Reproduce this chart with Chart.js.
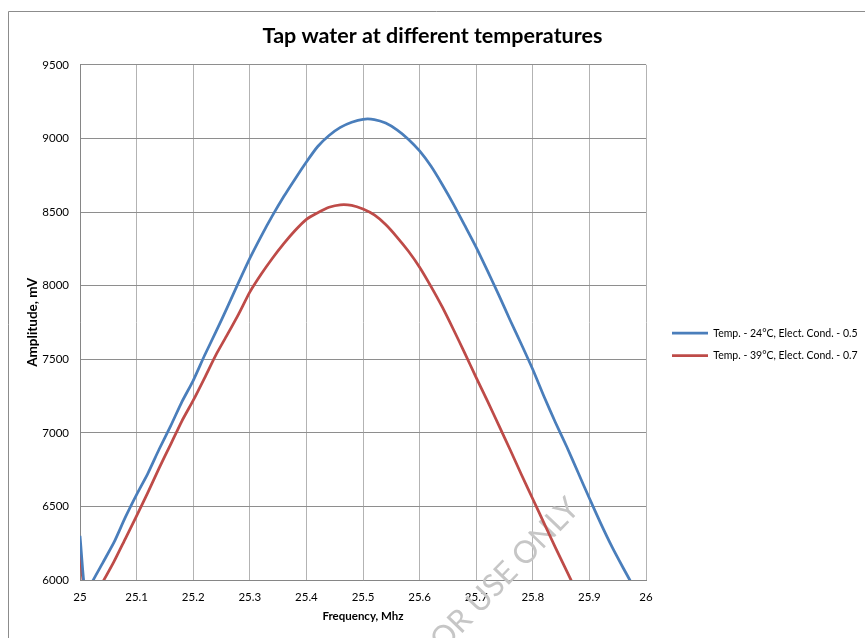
<!DOCTYPE html>
<html>
<head>
<meta charset="utf-8">
<title>Tap water at different temperatures</title>
<script src="https://cdn.jsdelivr.net/npm/chart.js@4.4.0/dist/chart.umd.min.js"></script>
<style>
  html, body { margin: 0; padding: 0; background: #fff; }
</style>
</head>
<body>
<canvas id="chart" width="865" height="638"></canvas>
<script>
// DATA
const freqs = [25.00, 25.01, 25.02, 25.04, 25.06, 25.08, 25.10, 25.12, 25.14, 25.16,
               25.18, 25.20, 25.22, 25.24, 25.26, 25.28, 25.30, 25.32, 25.34, 25.36,
               25.38, 25.40, 25.42, 25.44, 25.46, 25.48, 25.50, 25.52, 25.54, 25.56,
               25.58, 25.60, 25.62, 25.64, 25.66, 25.68, 25.70, 25.72, 25.74, 25.76,
               25.78, 25.80, 25.82, 25.84, 25.86, 25.88, 25.90, 25.92, 25.94, 25.96,
               25.98, 26.00];
const amp24 = [6300, 5880, 5975, 6115, 6255, 6425, 6580, 6725, 6890, 7045,
               7210, 7355, 7525, 7685, 7850, 8020, 8185, 8335, 8475, 8605,
               8725, 8840, 8945, 9020, 9075, 9110, 9130, 9128, 9104, 9058,
               8995, 8915, 8812, 8687, 8552, 8407, 8260, 8100, 7935, 7765,
               7600, 7430, 7245, 7070, 6905, 6730, 6555, 6385, 6225, 6080,
               5940, 5800];
const amp39 = [6180, 5870, 5850, 5985, 6125, 6280, 6435, 6595, 6762, 6920,
               7080, 7220, 7372, 7528, 7665, 7805, 7956, 8077, 8186, 8285,
               8374, 8450, 8495, 8532, 8549, 8545, 8520, 8480, 8415, 8330,
               8235, 8125, 7995, 7855, 7700, 7540, 7375, 7215, 7050, 6885,
               6715, 6550, 6385, 6220, 6060, 5900, 5740];
const seriesNames = ['Temp. - 24°C, Elect. Cond. - 0.5', 'Temp. - 39°C, Elect. Cond. - 0.7'];
const xTickLabels = ['25', '25.1', '25.2', '25.3', '25.4', '25.5', '25.6', '25.7', '25.8', '25.9', '26'];
const yTickLabels = ['6000', '6500', '7000', '7500', '8000', '8500', '9000', '9500'];

const FONT = 'Lato, "Open Sans", sans-serif';
const toPoints = vals => vals.map((v, i) => ({ x: freqs[i], y: v }));

// frame and watermark
const framePlugin = {
    id: 'frame',
    beforeDraw(chart) {
        const c = chart.ctx;
        c.save();
        c.fillStyle = '#fff';
        c.fillRect(0, 0, chart.width, chart.height);
        c.strokeStyle = '#8c8c8c';
        c.lineWidth = 1;
        c.beginPath();
        c.moveTo(8.5, chart.height);
        c.lineTo(8.5, 11.5);
        c.lineTo(chart.width, 11.5);
        c.stroke();
        c.restore();
    }
};
const watermarkPlugin = {
    id: 'watermark',
    beforeDatasetsDraw(chart) {
        const c = chart.ctx;
        c.save();
        c.translate(581, 510);
        c.rotate(-46 * Math.PI / 180);
        c.font = '31px ' + FONT;
        c.fillStyle = '#c6c6c6';
        c.textAlign = 'right';
        c.textBaseline = 'alphabetic';
        c.fillText('FOR AUTHOR USE ONLY', 0, 0);
        c.restore();
    }
};

new Chart(document.getElementById('chart'), {
    type: 'line',
    data: {
        datasets: [
            { label: seriesNames[0], data: toPoints(amp24), borderColor: '#4a7ebb', backgroundColor: '#4a7ebb',
              borderWidth: 2.75, pointRadius: 0, pointStyle: 'line', tension: 0.2 },
            { label: seriesNames[1], data: toPoints(amp39), borderColor: '#be4b48', backgroundColor: '#be4b48',
              borderWidth: 2.75, pointRadius: 0, pointStyle: 'line', tension: 0.2 }
        ]
    },
    options: {
        responsive: false,
        animation: false,
        layout: { padding: 0 },
        scales: {
            x: {
                type: 'linear', min: 25, max: 26,
                ticks: { stepSize: 0.1, padding: 10, color: '#000', maxRotation: 0, autoSkip: false,
                         font: { family: FONT, size: 11.5 }, callback: (v, i) => xTickLabels[i] },
                grid: { color: '#b3b3b3', drawTicks: false },
                border: { color: '#868686' },
                title: { display: true, text: 'Frequency, Mhz', color: '#000',
                         font: { family: FONT, size: 11.5, weight: 'bold' }, padding: { top: 0, bottom: 15 } },
                afterFit: s => { s.height = 58; }
            },
            y: {
                min: 6000, max: 9500,
                ticks: { stepSize: 500, padding: 11, color: '#000',
                         font: { family: FONT, size: 11.5 }, callback: (v, i) => yTickLabels[i] },
                grid: { color: '#8e8e8e', drawTicks: false },
                border: { color: '#868686' },
                title: { display: true, text: 'Amplitude, mV', color: '#000',
                         font: { family: FONT, size: 13.5, weight: 'bold' }, padding: { top: 25, bottom: 0 } },
                afterFit: s => { s.width = 80; }
            },
            gap: {
                type: 'linear', position: 'right',
                grid: { display: false }, border: { display: false }, ticks: { display: false },
                afterFit: s => { s.width = 14; }
            }
        },
        plugins: {
            title: { display: true, text: 'Tap water at different temperatures', color: '#000',
                     font: { family: FONT, size: 21.5, weight: 'bold' }, padding: { top: 23, bottom: 16 } },
            legend: {
                position: 'right', fullSize: false, maxWidth: 205,
                title: { display: true, text: '', font: { size: 10 }, padding: { top: 32, bottom: 0 } },
                labels: { usePointStyle: true, pointStyleWidth: 36, padding: 12, color: '#000',
                          font: { family: FONT, size: 10.5 } }
            },
            tooltip: { enabled: false }
        }
    },
    plugins: [framePlugin, watermarkPlugin]
});
</script>
</body>
</html>
